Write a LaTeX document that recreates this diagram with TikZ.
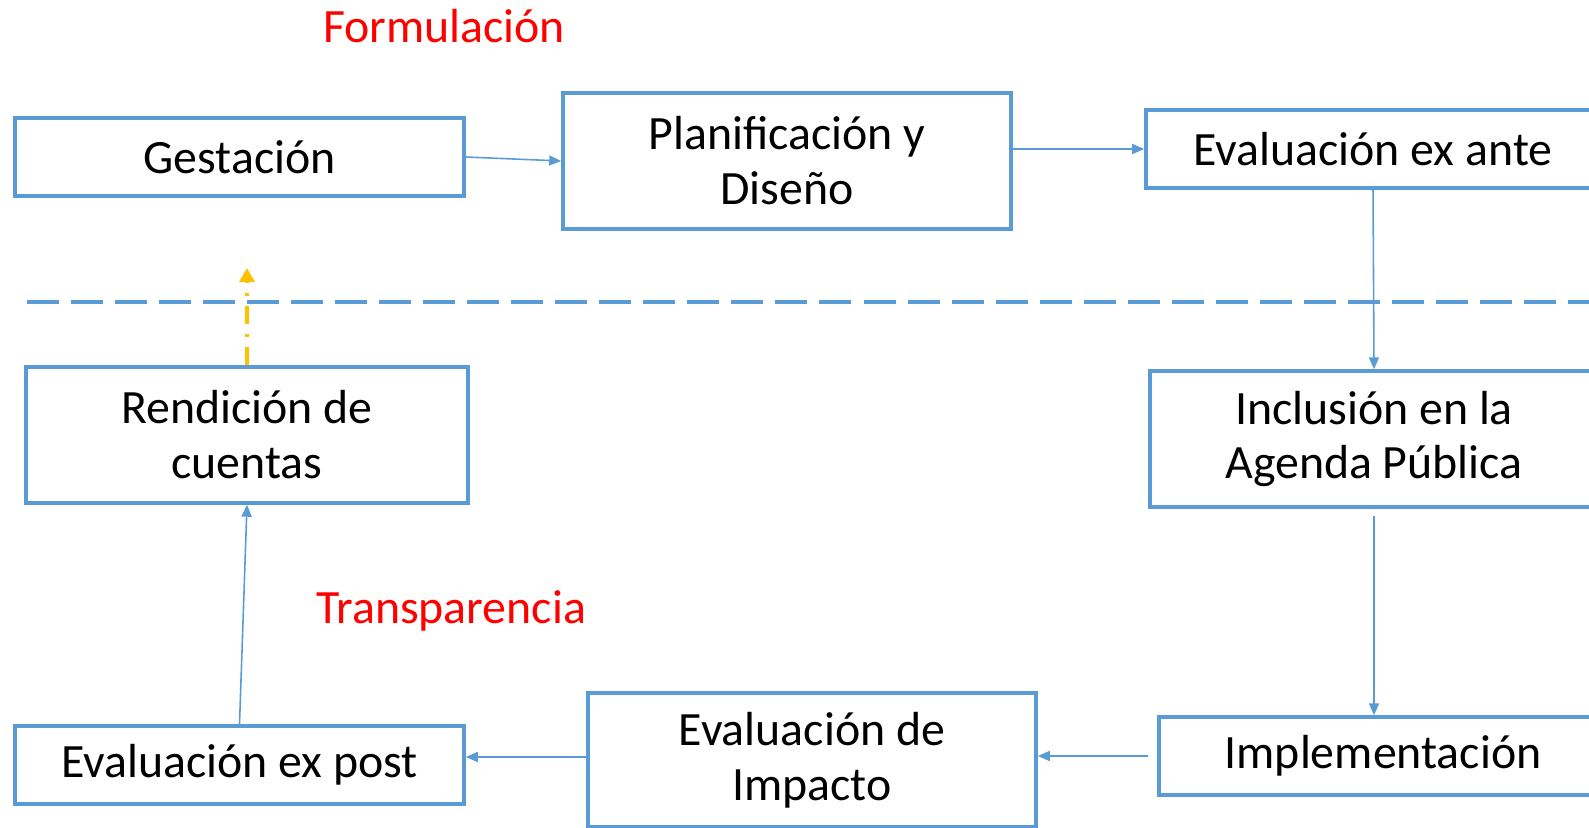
\documentclass[tikz,border=0pt]{standalone}
\usepackage{fontspec}
\setmainfont{Carlito}
\usetikzlibrary{arrows.meta}
\definecolor{azul}{RGB}{91,155,213}
\definecolor{ambar}{RGB}{255,192,0}

\begin{document}
\begin{tikzpicture}[x=0.01cm,y=-0.01cm,
  caja/.style={draw=azul, line width=0.95pt, align=center, inner sep=0pt,
    font=\fontsize{13.6}{15.6}\selectfont},
  flecha/.style={draw=azul, line width=0.45pt, -{Triangle[length=0.12cm,width=0.1cm]}},
  etiqueta/.style={text=red, font=\fontsize{13.6}{15.6}\selectfont}]
\useasboundingbox (0,0) rectangle (1589,828);
\clip (0,0) rectangle (1589,828);

% fases
\node[etiqueta] (formu) at (444,26) {Formulación};
\node[etiqueta] (transp) at (451,611) {Transparencia};

% fila de arriba
\node[caja, minimum width=4.49cm, minimum height=0.78cm] (gest) at (239.5,157) {Gestación};
\node[caja, minimum width=4.48cm, minimum height=1.36cm] (plan) at (787,161) {Planificación y\\Diseño};
\node[caja, minimum width=4.54cm, minimum height=0.78cm] (ante) at (1373,149) {Evaluación ex ante};

% fila del medio
\node[caja, minimum width=4.42cm, minimum height=1.36cm] (rend) at (247,435) {Rendición de\\cuentas};
\node[caja, minimum width=4.48cm, minimum height=1.36cm] (incl) at (1374,439) {Inclusión en la\\Agenda Pública};

% fila de abajo
\node[caja, minimum width=4.49cm, minimum height=0.78cm] (post) at (239.5,765) {Evaluación ex post};
\node[caja, minimum width=4.48cm, minimum height=1.34cm] (impa) at (812,760) {Evaluación de\\Impacto};
\node[caja, minimum width=4.48cm, minimum height=0.78cm] (impl) at (1383,756) {Implementación};

% separacion
\draw[azul, line width=1.1pt, dash pattern=on 0.32cm off 0.12cm] (27,302) -- (1589,302);

\draw[flecha] (gest.east) -- (plan.west);
\draw[flecha] (plan.east |- ante.west) -- (ante.west);
\draw[flecha] (ante.south) -- (incl.north);
\draw[flecha] ([yshift=-0.07cm]incl.south) -- (incl.south |- impl.north);
\draw[flecha] ([xshift=-0.09cm]impl.west) -- (impl.west -| impa.east);
\draw[flecha] ([yshift=0.03cm]impa.west) -- ([yshift=0.03cm]impa.west -| post.east);
\draw[flecha] (post.north) -- (rend.south);

\coordinate (tope) at (247,268);
\draw[ambar, line width=1pt, dash pattern=on 0.18cm off 0.1cm on 0.03cm off 0.1cm,
  -{Triangle[length=0.14cm,width=0.15cm]}] (rend.north) -- (tope);
\end{tikzpicture}
\end{document}
